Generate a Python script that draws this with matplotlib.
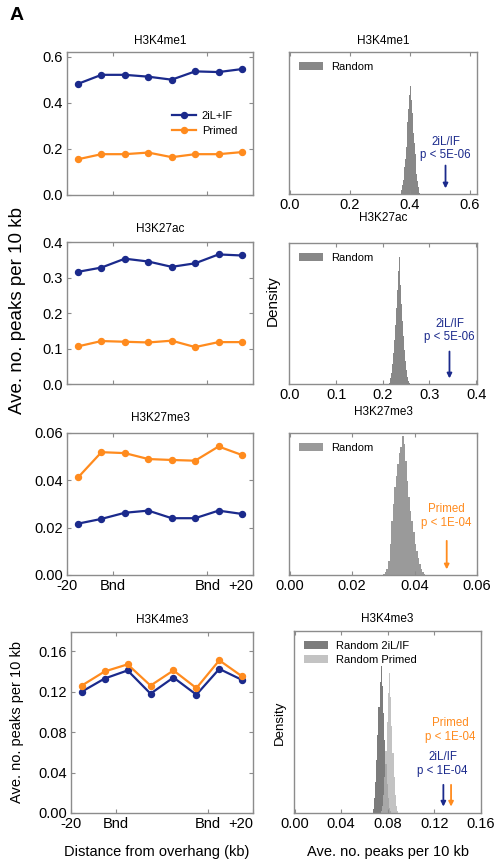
import numpy as np
import matplotlib
matplotlib.use("Agg")
import matplotlib.pyplot as plt

plt.rcParams['font.family'] = ['Liberation Sans', 'DejaVu Sans']

BLUE = '#1b2a8c'
ORANGE = '#ff8b1e'
SPINE = '#8c8c8c'

# ---- line-plot data (8 bins from -20 kb to +20 kb) ----
bin_index = [0, 1, 2, 3, 4, 5, 6, 7]
x_tick_pos = [-0.47, 1.48, 5.52, 7.47]
x_tick_labels = ['-20', 'Bnd', 'Bnd', '+20']

k4me1_2il = [0.482, 0.521, 0.521, 0.513, 0.500, 0.536, 0.533, 0.546]
k4me1_primed = [0.155, 0.177, 0.177, 0.184, 0.164, 0.177, 0.177, 0.186]
k27ac_2il = [0.316, 0.328, 0.353, 0.345, 0.330, 0.340, 0.365, 0.362]
k27ac_primed = [0.106, 0.121, 0.119, 0.117, 0.122, 0.104, 0.118, 0.118]
k27me3_2il = [0.0217, 0.0237, 0.0263, 0.0272, 0.0240, 0.0240, 0.0272, 0.0258]
k27me3_primed = [0.0412, 0.0519, 0.0515, 0.0490, 0.0486, 0.0483, 0.0543, 0.0507]
k4me3_2il = [0.120, 0.133, 0.141, 0.118, 0.134, 0.117, 0.1425, 0.1315]
k4me3_primed = [0.126, 0.140, 0.147, 0.126, 0.141, 0.1235, 0.151, 0.135]

# ---- random-permutation histograms (density, scaled to axis height) ----
k4me1_edges = [0.370 + 0.0025 * i for i in range(27)]
k4me1_hist = [0.01, 0.03, 0.06, 0.10, 0.14, 0.19, 0.25, 0.33, 0.42, 0.51, 0.60, 0.70, 0.82,
              0.76, 0.66, 0.57, 0.49, 0.43, 0.36, 0.28, 0.20, 0.14, 0.09, 0.05, 0.02, 0.01]
k27ac_edges = [0.214 + 0.002 * i for i in range(23)]
k27ac_hist = [0.01, 0.04, 0.08, 0.14, 0.22, 0.31, 0.42, 0.54, 0.67, 0.80, 0.90,
              0.82, 0.70, 0.57, 0.45, 0.34, 0.24, 0.16, 0.10, 0.05, 0.02, 0.01]
k27me3_edges = [0.0300 + 0.0005 * i for i in range(28)]
k27me3_hist = [0.01, 0.02, 0.04, 0.10, 0.22, 0.38, 0.50, 0.62, 0.70, 0.78, 0.86, 0.90, 0.98,
               0.92, 0.80, 0.66, 0.55, 0.45, 0.38, 0.30, 0.22, 0.17, 0.12, 0.08, 0.04, 0.02, 0.01]
k4me3_2il_edges = [0.067 + 0.001 * i for i in range(17)]
k4me3_2il_hist = [0.02, 0.08, 0.17, 0.29, 0.43, 0.58, 0.72, 0.81,
                  0.70, 0.55, 0.40, 0.27, 0.16, 0.08, 0.03, 0.01]
k4me3_primed_edges = [0.074 + 0.001 * i for i in range(16)]
k4me3_primed_hist = [0.01, 0.04, 0.10, 0.20, 0.34, 0.50, 0.66, 0.77,
                     0.64, 0.48, 0.33, 0.20, 0.10, 0.04, 0.01]

# observed values (arrow positions)
k4me1_obs_2il = 0.520
k27ac_obs_2il = 0.343
k27me3_obs_primed = 0.0503
k4me3_obs_2il = 0.1277
k4me3_obs_primed = 0.1343

W, H = 497, 868
fig = plt.figure(figsize=(W / 100, H / 100), dpi=100)
TICK = 10.5
ANNOT = 8.3


def add_axes(l, t, r, b):
    return fig.add_axes([l / W, 1 - b / H, (r - l) / W, (b - t) / H])


def px_text(x, y, s, **kw):
    fig.text(x / W, 1 - y / H, s, ha='center', va='center', **kw)


def style(ax):
    for s in ax.spines.values():
        s.set_color(SPINE)
        s.set_linewidth(1.0)
    ax.tick_params(direction='in', top=True, right=True, length=3, width=0.8,
                   color=SPINE, labelsize=TICK, pad=3)


def line_panel(ax, title, blue, orange, ylim, yticks, fmt, pad):
    ax.plot(bin_index, blue, '-o', color=BLUE, lw=1.6, ms=4.3, label='2iL+IF')
    ax.plot(bin_index, orange, '-o', color=ORANGE, lw=1.6, ms=4.3, label='Primed')
    ax.set_xlim(-0.47, 7.47)
    ax.set_ylim(*ylim)
    ax.set_yticks(yticks)
    ax.set_yticklabels([fmt % v for v in yticks])
    ax.set_xticks(x_tick_pos)
    ax.set_xticklabels([])
    ax.set_title(title, fontsize=8.5, pad=pad)
    style(ax)


def bottom_labels(ax):
    labs = ax.set_xticklabels(x_tick_labels)
    labs[-1].set_ha('right')


def hist_panel(ax, title, edges, hist, xlim, xticks, fmt, pad, color='#888888'):
    ax.stairs(hist, edges, fill=True, color=color, lw=0.4, label='Random')
    ax.set_xlim(*xlim)
    ax.set_ylim(0, 1)
    ax.set_yticks([])
    ax.set_xticks(xticks)
    ax.set_xticklabels([fmt % v for v in xticks])
    ax.set_title(title, fontsize=8.5, pad=pad)
    style(ax)
    ax.tick_params(left=False, right=False)


def arrow(ax, x, y0, y1, color):
    ax.annotate('', xy=(x, y1), xytext=(x, y0),
                arrowprops=dict(arrowstyle='-|>', color=color, lw=1.3,
                                mutation_scale=7))


def hist_legend(ax):
    ax.legend(loc='upper left', frameon=False, fontsize=8, handlelength=2.2,
              borderaxespad=0.5, handletextpad=0.7)


# ---- row 1 ----
ax = add_axes(67, 52, 253, 195)
line_panel(ax, 'H3K4me1', k4me1_2il, k4me1_primed, (0, 0.62), [0.0, 0.2, 0.4, 0.6], '%.1f', 5.5)
ax.legend(loc='center left', bbox_to_anchor=(0.51, 0.50), frameon=False, fontsize=8,
          handlelength=2.2, labelspacing=0.45, handletextpad=0.5)

ax = add_axes(289, 52, 477, 194)
hist_panel(ax, 'H3K4me1', k4me1_edges, k4me1_hist, (-0.002, 0.625), [0.0, 0.2, 0.4, 0.6], '%.1f', 5.5)
hist_legend(ax)
ax.text(k4me1_obs_2il, 0.32, '2iL/IF\np < 5E-06', color=BLUE, fontsize=ANNOT, ha='center',
        va='center', linespacing=1.1)
arrow(ax, k4me1_obs_2il, 0.22, 0.02, BLUE)

# ---- row 2 ----
ax = add_axes(67, 242, 253, 384)
line_panel(ax, 'H3K27ac', k27ac_2il, k27ac_primed, (0, 0.4), [0.0, 0.1, 0.2, 0.3, 0.4], '%.1f', 7)

ax = add_axes(289, 243, 477, 384)
hist_panel(ax, 'H3K27ac', k27ac_edges, k27ac_hist, (-0.001, 0.402), [0.0, 0.1, 0.2, 0.3, 0.4], '%.1f', 16)
hist_legend(ax)
ax.text(k27ac_obs_2il, 0.38, '2iL/IF\np < 5E-06', color=BLUE, fontsize=ANNOT, ha='center',
        va='center', linespacing=1.1)
arrow(ax, k27ac_obs_2il, 0.25, 0.02, BLUE)
px_text(273, 301, 'Density', rotation=90, fontsize=11)

# ---- row 3 ----
ax = add_axes(67, 433, 253, 575)
line_panel(ax, 'H3K27me3', k27me3_2il, k27me3_primed, (0, 0.06), [0.0, 0.02, 0.04, 0.06], '%.2f', 8.5)
bottom_labels(ax)

ax = add_axes(289, 433, 477, 575)
hist_panel(ax, 'H3K27me3', k27me3_edges, k27me3_hist, (-0.0002, 0.06), [0.0, 0.02, 0.04, 0.06], '%.2f', 13,
           color='#9a9a9a')
hist_legend(ax)
ax.text(k27me3_obs_primed, 0.415, 'Primed\np < 1E-04', color=ORANGE, fontsize=ANNOT, ha='center',
        va='center', linespacing=1.2)
arrow(ax, k27me3_obs_primed, 0.26, 0.02, ORANGE)

px_text(18, 311, 'Ave. no. peaks per 10 kb', rotation=90, fontsize=13.5)

# ---- row 4 ----
ax = add_axes(71, 632, 253, 813)
line_panel(ax, 'H3K4me3', k4me3_2il, k4me3_primed, (0, 0.179), [0.0, 0.04, 0.08, 0.12, 0.16], '%.2f', 6.5)
bottom_labels(ax)
px_text(17, 722, 'Ave. no. peaks per 10 kb', rotation=90, fontsize=10.5)
px_text(157, 852, 'Distance from overhang (kb)', fontsize=10.5)

ax = add_axes(294, 631, 481, 813)
ax.stairs(k4me3_2il_hist, k4me3_2il_edges, fill=True, color='#6e6e6e', alpha=0.9, lw=0.4,
          label='Random 2iL/IF')
ax.stairs(k4me3_primed_hist, k4me3_primed_edges, fill=True, color='#b4b4b4', alpha=0.8, lw=0.4,
          label='Random Primed')
ax.set_xlim(-0.0005, 0.16)
ax.set_ylim(0, 1)
ax.set_yticks([])
xt = [0.0, 0.04, 0.08, 0.12, 0.16]
ax.set_xticks(xt)
ax.set_xticklabels(['%.2f' % v for v in xt])
ax.set_title('H3K4me3', fontsize=8.5, pad=6.5)
style(ax)
ax.tick_params(left=False, right=False)
ax.legend(loc='upper left', frameon=False, fontsize=8, handlelength=2.2, borderaxespad=0.5,
          labelspacing=0.35, handletextpad=0.7)
px_text(280, 723, 'Density', rotation=90, fontsize=9.5)
px_text(388, 852, 'Ave. no. peaks per 10 kb', fontsize=10.5)
ax.text(0.134, 0.455, 'Primed\np < 1E-04', color=ORANGE, fontsize=ANNOT, ha='center',
        va='center', linespacing=1.2)
ax.text(0.127, 0.27, '2iL/IF\np < 1E-04', color=BLUE, fontsize=ANNOT, ha='center',
        va='center', linespacing=1.2)
arrow(ax, k4me3_obs_2il, 0.17, 0.02, BLUE)
arrow(ax, k4me3_obs_primed, 0.17, 0.02, ORANGE)

fig.text(10 / W, 1 - 16 / H, 'A', fontsize=14, fontweight='bold', ha='left', va='center')

fig.savefig('out.png', dpi=100)
